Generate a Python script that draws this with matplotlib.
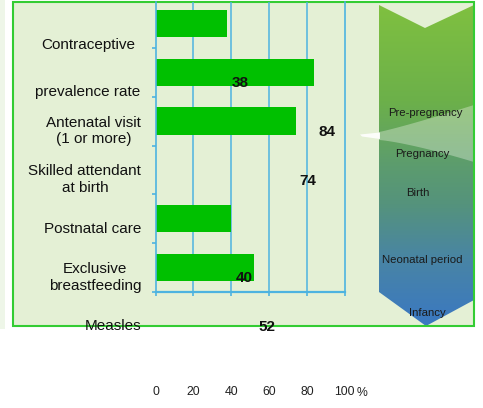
import numpy as np
import matplotlib
matplotlib.use("Agg")
import matplotlib.pyplot as plt
from matplotlib.patches import Rectangle, Polygon
from matplotlib.colors import LinearSegmentedColormap

plt.rcParams['font.family'] = ['Liberation Sans', 'DejaVu Sans']

# data
row_labels = ["Contraceptive", "prevalence rate", "Antenatal visit\n(1 or more)",
              "Skilled attendant\nat birth", "Postnatal care",
              "Exclusive\nbreastfeeding", "Measles"]
bar_values = [38, 84, 74, np.nan, 40, 52]
value_labels = ["38", "84", "74", "", "40", "52"]
x_ticks = [0, 20, 40, 60, 80, 100]
x_tick_labels = ["0", "20", "40", "60", "80", "100"]
stages = ["Pre-pregnancy", "Pregnancy", "Birth", "Neonatal period", "Infancy"]

bg = '#e4f0d5'
bar_col = '#00c000'
blue = '#4db3e0'
border = '#33cc33'

W, H = 483, 408
fig = plt.figure(figsize=(W / 100, H / 100), dpi=100)

# background layer in pixel coords
axb = fig.add_axes([0, 0, 1, 1], zorder=0)
axb.set_xlim(0, W)
axb.set_ylim(H, 0)
axb.axis('off')
axb.add_patch(Rectangle((0, 0), 5, 329, color='#eef6e8', lw=0))
axb.add_patch(Rectangle((12.5, 2), 461.5, 324, facecolor=bg, edgecolor='none'))
axb.add_patch(Rectangle((12.5, 2), 461.5, 324, facecolor='none', edgecolor=border, lw=1.5, zorder=5))

# stage arrow with gradient
arrow_xy = [(379, 5), (425, 28), (474, 5), (474, 300), (426, 326), (379, 292)]
arrow = Polygon(arrow_xy, closed=True, facecolor='none', edgecolor='none')
axb.add_patch(arrow)
cmap = LinearSegmentedColormap.from_list('stage', [
    (0.0, '#7fc040'), (0.3, '#6cb04a'), (0.5, '#5c9c6e'),
    (0.62, '#55937c'), (0.8, '#4884a6'), (1.0, '#3a78c2')])
grad = np.linspace(0, 1, 256).reshape(-1, 1)
im = axb.imshow(grad, cmap=cmap, extent=[379, 474, 326, 5], aspect='auto',
                interpolation='bilinear', zorder=1)
im.set_clip_path(arrow)

sx = np.linspace(379, 474, 40)
top = 132 - 27 * ((sx - 379) / 95) ** 1.1
bot = 140 + 22 * ((sx - 379) / 95) ** 1.3
swoosh = Polygon(np.vstack([np.column_stack([sx, top]), np.column_stack([sx[::-1], bot[::-1]])]),
                 closed=True, facecolor='#f4f8ee', alpha=0.35, lw=0, zorder=2)
axb.add_patch(swoosh)
swoosh.set_clip_path(arrow)
axb.add_patch(Polygon([(360, 134.5), (380, 132.5), (380, 139), (362, 136.5)],
                      closed=True, facecolor='white', alpha=0.9, lw=0, zorder=2))

stage_pos = [(425.7, 113), (422.7, 154), (418, 193), (422.7, 260), (427, 313)]
for name, (sxp, syp) in zip(stages, stage_pos):
    axb.text(sxp, syp, name, ha='center', va='center', fontsize=8.2, color='#1a1a1a',
             zorder=3)

# main bar axes
ax = fig.add_axes([155.5 / W, 1 - 292 / H, (344.7 - 155.5) / W, 290 / H], zorder=1)
ax.patch.set_alpha(0)
slots = np.arange(len(bar_values))
ax.barh(slots, bar_values, height=0.56, color=bar_col, zorder=2)
ax.set_xlim(0, 100)
ax.set_ylim(5.5, -0.44)

for v in x_ticks[1:-1]:
    ax.axvline(v, color=blue, lw=1.1, zorder=1)
ax.spines['top'].set_visible(False)
for s in ['left', 'right', 'bottom']:
    ax.spines[s].set_color(blue)
    ax.spines[s].set_linewidth(1.2)
ax.spines['bottom'].set_linewidth(1.6)
ax.set_yticks(np.arange(len(bar_values)) + 0.5)
ax.set_yticklabels([])
ax.set_xticks(x_ticks)
ax.set_xticklabels([])
ax.tick_params(axis='both', color=blue, length=3, width=1.2)

# category labels (shifted as in the original slide)
label_y = [0.44, 1.40] + [i + 0.2 for i in range(2, len(row_labels))]
label_x = [-0.105, -0.08] + [-0.075] * (len(row_labels) - 2)
for lab, lx, ly in zip(row_labels, label_x, label_y):
    ax.text(lx, ly, lab, transform=ax.get_yaxis_transform(), ha='right', va='center',
            multialignment='center', fontsize=11, color='#111111', linespacing=1.25,
            clip_on=False)

# value labels
for s, (v, t) in enumerate(zip(bar_values, value_labels)):
    if t:
        ax.text(v + 6.7, s + 1.22, t, ha='center', va='center', fontsize=11,
                fontweight='bold', color='#111111', clip_on=False, zorder=4)

# x tick labels far below the axis
for v, t in zip(x_ticks, x_tick_labels):
    ax.annotate(t, xy=(v, 0), xycoords=('data', 'axes fraction'), xytext=(0, -100),
                textcoords='offset pixels', ha='center', va='center', fontsize=8.8,
                color='#222222')
ax.annotate('%', xy=(100, 0), xycoords=('data', 'axes fraction'), xytext=(12, -101),
            textcoords='offset pixels', ha='left', va='center', fontsize=8.8, color='#222222')

fig.savefig('out.png', dpi=100)
